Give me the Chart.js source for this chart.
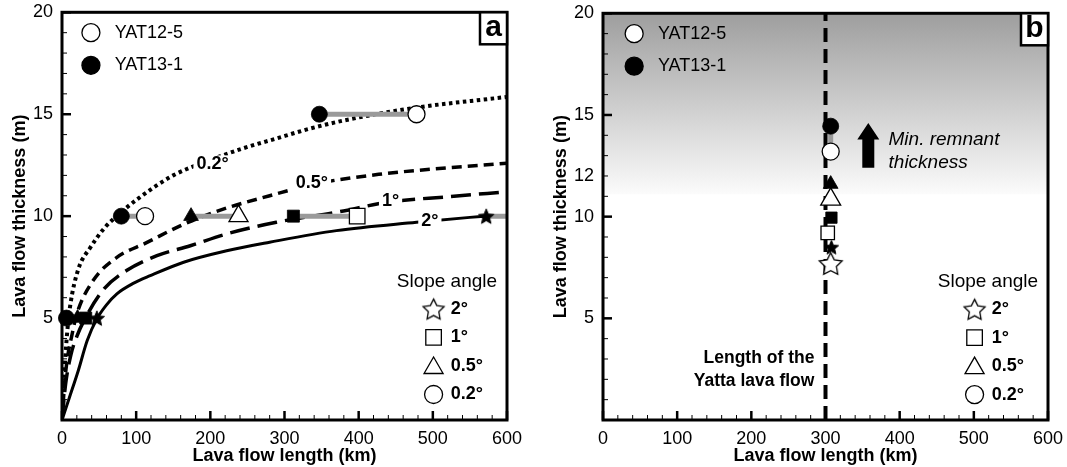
<!DOCTYPE html>
<html>
<head>
<meta charset="utf-8">
<script src="https://cdn.jsdelivr.net/npm/chart.js@4.4.0/dist/chart.umd.min.js"></script>
<style>
  html, body { margin: 0; padding: 0; background: #fff; }
  canvas { position: absolute; top: 0; }
</style>
</head>
<body>
<canvas id="chartA" width="541" height="467" style="left:0;width:541px;height:467px"></canvas>
<canvas id="chartB" width="526" height="467" style="left:541px;width:526px;height:467px"></canvas>
<script>
// ---- data ----
const slopeLabels = ['2°', '1°', '0.5°', '0.2°'];
const sampleLabels = ['YAT12-5', 'YAT13-1'];
const xTickLabels = [0, 100, 200, 300, 400, 500, 600];
const yTickLabelsA = [5, 10, 15, 20];
const yTickLabelsB = [5, 10, 12, 15, 20];

// model curves, panel a (length km / thickness m)
const len02 = [0, 2, 4, 7, 11, 22, 38, 58, 80, 104, 150, 196, 242, 288, 335, 381, 473, 600];
const thk02 = [0, 1.6, 2.8, 4.3, 5.6, 7.4, 8.45, 9.45, 10.2, 10.9, 12.0, 12.7, 13.3, 13.8, 14.3, 14.7, 15.3, 15.85];
const len05 = [0, 4, 8, 13, 20, 42, 74, 114, 164, 222, 280, 337, 427, 600];
const thk05 = [0, 2.0, 3.2, 4.1, 5.2, 6.84, 7.98, 8.7, 9.6, 10.4, 11.0, 11.55, 12.05, 12.6];
const len1 = [0, 5, 12, 20, 30, 56, 87, 128, 173, 222, 289, 370, 442, 520, 600];
const thk1 = [0, 1.8, 3.2, 4.1, 4.9, 6.4, 7.33, 8.06, 8.55, 9.13, 9.7, 10.19, 10.7, 10.95, 11.2];
const len2 = [0, 10, 22, 34, 47, 60, 74, 96, 119, 164, 222, 280, 370, 478, 550, 572];
const thk2 = [0, 1.1, 2.43, 3.9, 4.96, 5.65, 6.19, 6.7, 7.08, 7.74, 8.3, 8.72, 9.29, 9.7, 9.94, 10.0];

// sample lengths for slopes 2°, 1°, 0.5°, 0.2° (YAT13-1 filled, YAT12-5 open)
const a5Filled = [47, 32, 21, 6];
const a10Filled = [572, 312, 174, 80];
const a10Open = [660, 398, 238, 112];
const a15Filled = [null, null, null, 347];
const a15Open = [null, null, null, 478];

// panel b: remnant thickness at the Yatta flow length
const yattaLength = 300;
const bFilledLen = [308, 308, 307, 307];
const bFilledThk = [8.5, 9.95, 11.6, 14.45];
const bOpenLen = [307, 303, 307, 307];
const bOpenThk = [7.7, 9.2, 10.85, 13.2];
const shadeFrom = 11.1;

// ---- drawing ----
const FONT = "'Liberation Sans', Arial, Helvetica, sans-serif";
Chart.defaults.font.family = FONT;
Chart.defaults.font.size = 17;
Chart.defaults.color = '#000';
Chart.defaults.animation = false;

function starImage(R, inner, filled, lw) {
  const s = Math.ceil(2 * R + 2 * lw + 4);
  const c = document.createElement('canvas');
  c.width = s; c.height = s;
  const g = c.getContext('2d');
  const cx = s / 2, cy = s / 2 + R * 0.1;
  g.beginPath();
  for (let i = 0; i < 10; i++) {
    const r = i % 2 ? R * inner : R;
    const ang = -Math.PI / 2 + i * Math.PI / 5;
    g.lineTo(cx + r * Math.cos(ang), cy + r * Math.sin(ang));
  }
  g.closePath();
  g.fillStyle = filled ? '#000' : '#fff';
  g.fill();
  g.lineWidth = lw;
  g.strokeStyle = '#000';
  g.stroke();
  return c;
}

const starFilledA = starImage(8, 0.45, true, 1);
const starFilledB = starImage(7.5, 0.45, true, 1);
const starOpenB = starImage(12, 0.5, false, 1.3);
const starLegend = starImage(11, 0.5, false, 1.3);

function pts(xs, ys) {
  return xs.map((v, i) => ({ x: v, y: ys[i] })).filter(p => p.x !== null && p.y !== null);
}

function curve(xs, ys, dash, width) {
  return {
    data: pts(xs, ys), showLine: true, pointRadius: 0, borderColor: '#000',
    borderWidth: width, borderDash: dash, borderCapStyle: 'butt',
    cubicInterpolationMode: 'monotone', order: 3
  };
}

function grayLine(p1, p2) {
  return {
    data: [p1, p2], showLine: true, pointRadius: 0, borderColor: '#9a9a9a',
    borderWidth: 5, borderCapStyle: 'butt', order: 2
  };
}

function marker(data, style, filled, r) {
  return {
    data: data, showLine: false, pointStyle: style, pointRadius: r,
    backgroundColor: filled ? '#000' : '#fff', borderColor: '#000',
    borderWidth: filled ? 0.8 : 1.3, clip: false, order: 0
  };
}

// chart area edges are fixed so both panels match the figure
function scales(yLabels) {
  return {
    x: {
      type: 'linear', min: 0, max: 600,
      grid: { display: false, drawTicks: false }, border: { display: false },
      ticks: {
        stepSize: 20, autoSkip: false, maxRotation: 0, padding: 8,
        font: { family: FONT, size: 18 },
        callback: v => xTickLabels.includes(v) ? String(v) : ''
      },
      title: { display: true, text: 'Lava flow length (km)', font: { family: FONT, weight: 'bold', size: 18 }, padding: { top: 0, bottom: 0 } },
      afterFit: s => { s.height = 47; s.paddingLeft = 0; s.paddingRight = 0; }
    },
    y: {
      type: 'linear', min: 0, max: 20,
      grid: { display: false, drawTicks: false }, border: { display: false },
      ticks: {
        stepSize: 1, autoSkip: false, padding: 9,
        font: { family: FONT, size: 18 },
        callback: v => yLabels.includes(v) ? String(v) : ''
      },
      title: { display: true, text: 'Lava flow thickness (m)', font: { family: FONT, weight: 'bold', size: 18 }, padding: { top: 9, bottom: 0 } },
      afterFit: s => { s.width = 62; s.paddingTop = 0; s.paddingBottom = 0; }
    }
  };
}

function frame(letter, yMajor) {
  return {
    id: 'frame' + letter,
    afterDraw(chart) {
      const { ctx, chartArea: a, scales: { x, y } } = chart;
      ctx.save();
      ctx.strokeStyle = '#000';
      for (let v = 0; v <= 600; v += 20) {
        const px = x.getPixelForValue(v);
        const major = v % 100 === 0;
        ctx.lineWidth = major ? 2.5 : 1;
        ctx.beginPath();
        ctx.moveTo(px, a.bottom);
        ctx.lineTo(px, a.bottom - (major ? 9 : 5));
        ctx.stroke();
      }
      for (let v = 0; v <= 20; v += 1) {
        const py = y.getPixelForValue(v);
        const major = yMajor.includes(v);
        ctx.lineWidth = major ? 2.5 : 1;
        ctx.beginPath();
        ctx.moveTo(a.left, py);
        ctx.lineTo(a.left + (major ? 9 : 5), py);
        ctx.stroke();
      }
      ctx.lineWidth = 3;
      ctx.strokeRect(a.left, a.top, a.right - a.left, a.bottom - a.top);
      // panel letter
      const bw = 27, bh = 32;
      ctx.fillStyle = '#fff';
      ctx.fillRect(a.right - bw, a.top, bw, bh);
      ctx.lineWidth = 2.5;
      ctx.strokeRect(a.right - bw, a.top, bw, bh);
      ctx.fillStyle = '#000';
      ctx.font = 'bold 30px ' + FONT;
      ctx.textAlign = 'center';
      ctx.textBaseline = 'middle';
      ctx.fillText(letter, a.right - bw / 2, a.top + bh / 2 - 1);
      ctx.restore();
    }
  };
}

function shape(ctx, style, x, y, r, filled) {
  ctx.fillStyle = filled ? '#000' : '#fff';
  ctx.strokeStyle = '#000';
  ctx.lineWidth = 1.3;
  Chart.helpers.drawPoint(ctx, { pointStyle: style, radius: r, borderWidth: 1.3, rotation: 0 }, x, y);
}

function legends(chart, ox) {
  const { ctx, scales: { x, y } } = chart;
  ctx.save();
  // sample legend, top left
  shape(ctx, 'circle', x.getPixelForValue(ox), y.getPixelForValue(19.0), 9, false);
  shape(ctx, 'circle', x.getPixelForValue(ox), y.getPixelForValue(17.4), 9, true);
  ctx.fillStyle = '#000';
  ctx.font = '18px ' + FONT;
  ctx.textAlign = 'left';
  ctx.textBaseline = 'middle';
  ctx.fillText(sampleLabels[0], x.getPixelForValue(ox + 32), y.getPixelForValue(19.0));
  ctx.fillText(sampleLabels[1], x.getPixelForValue(ox + 32), y.getPixelForValue(17.4));
  // slope legend, bottom right
  ctx.font = '19px ' + FONT;
  ctx.textAlign = 'center';
  ctx.fillText('Slope angle', x.getPixelForValue(519), y.getPixelForValue(6.8));
  const sx = x.getPixelForValue(501);
  const rows = [5.45, 4.05, 2.65, 1.25];
  ctx.drawImage(starLegend, sx - starLegend.width / 2, y.getPixelForValue(rows[0]) - starLegend.height / 2);
  shape(ctx, 'rect', sx, y.getPixelForValue(rows[1]), 11, false);
  shape(ctx, 'triangle', sx, y.getPixelForValue(rows[2]) + 2, 11, false);
  shape(ctx, 'circle', sx, y.getPixelForValue(rows[3]), 9, false);
  ctx.fillStyle = '#000';
  ctx.font = 'bold 18px ' + FONT;
  ctx.textAlign = 'left';
  slopeLabels.forEach((t, i) => ctx.fillText(t, x.getPixelForValue(524), y.getPixelForValue(rows[i])));
  ctx.restore();
}

// ---- panel a ----
const curveLabels = [
  { t: '0.2°', x: 203, y: 12.54 },
  { t: '0.5°', x: 337, y: 11.64 },
  { t: '1°', x: 443, y: 10.73 },
  { t: '2°', x: 496, y: 9.78 }
];

const dsA = [
  curve(len02, thk02, [3.5, 3.5], 4),
  curve(len05, thk05, [10, 6], 3.5),
  curve(len1, thk1, [20, 8], 3.5),
  curve(len2, thk2, [], 3)
];
for (let i = 0; i < 4; i++) {
  dsA.push(grayLine({ x: a10Filled[i], y: 10 }, { x: a10Open[i], y: 10 }));
}
dsA.push(grayLine({ x: a15Filled[3], y: 15 }, { x: a15Open[3], y: 15 }));

const stylesA = [
  { f: starFilledA, o: 'rect', rf: 8, ro: 11 },
  { f: 'rect', o: 'rect', rf: 8.5, ro: 11 },
  { f: 'triangle', o: 'triangle', rf: 8.5, ro: 11 },
  { f: 'circle', o: 'circle', rf: 8, ro: 8.5 }
];
stylesA.forEach((s, i) => {
  const fill = [{ x: a5Filled[i], y: 5 }, { x: a10Filled[i], y: 10 }];
  if (a15Filled[i] !== null) fill.push({ x: a15Filled[i], y: 15 });
  const open = [{ x: a10Open[i], y: 10 }];
  if (a15Open[i] !== null) open.push({ x: a15Open[i], y: 15 });
  dsA.push(marker(fill, s.f, true, s.rf));
  if (i > 0) dsA.push(marker(open, s.o, false, s.ro));
});

const annotateA = {
  id: 'annotateA',
  afterDatasetsDraw(chart) {
    const { ctx, scales: { x, y } } = chart;
    ctx.save();
    ctx.font = 'bold 18px ' + FONT;
    ctx.textAlign = 'center';
    ctx.textBaseline = 'middle';
    curveLabels.forEach(l => {
      const px = x.getPixelForValue(l.x), py = y.getPixelForValue(l.y);
      const w = ctx.measureText(l.t).width;
      ctx.fillStyle = '#fff';
      ctx.fillRect(px - w / 2 - 3, py - 9, w + 6, 18);
      ctx.fillStyle = '#000';
      ctx.fillText(l.t, px, py);
    });
    ctx.restore();
    legends(chart, 39);
  }
};

new Chart(document.getElementById('chartA'), {
  type: 'scatter',
  data: { datasets: dsA },
  options: {
    responsive: false,
    layout: { padding: { top: 11.5, right: 34, left: 0, bottom: 0 } },
    plugins: { legend: { display: false }, tooltip: { enabled: false } },
    scales: scales(yTickLabelsA)
  },
  plugins: [annotateA, frame('a', [5, 10, 15, 20])]
});

// ---- panel b ----
const dsB = [
  {
    data: [{ x: yattaLength, y: 0 }, { x: yattaLength, y: 20 }], showLine: true, pointRadius: 0,
    borderColor: '#000', borderWidth: 4, borderDash: [14, 7], borderCapStyle: 'butt', order: 4
  },
  grayLine({ x: bFilledLen[3], y: bFilledThk[3] }, { x: bOpenLen[3], y: bOpenThk[3] })
];
const stylesB = [
  { f: starFilledB, o: starOpenB, rf: 8, ro: 12 },
  { f: 'rect', o: 'rect', rf: 8, ro: 9.5 },
  { f: 'triangle', o: 'triangle', rf: 8.5, ro: 11.5 },
  { f: 'circle', o: 'circle', rf: 8, ro: 8.5 }
];
stylesB.forEach((s, i) => {
  dsB.push(marker([{ x: bFilledLen[i], y: bFilledThk[i] }], s.f, true, s.rf));
  dsB.push(marker([{ x: bOpenLen[i], y: bOpenThk[i] }], s.o, false, s.ro));
});

const annotateB = {
  id: 'annotateB',
  beforeDatasetsDraw(chart) {
    const { ctx, chartArea: a, scales: { y } } = chart;
    const top = y.getPixelForValue(20), bot = y.getPixelForValue(shadeFrom);
    const g = ctx.createLinearGradient(0, top, 0, bot);
    g.addColorStop(0, '#9e9e9e');
    g.addColorStop(1, '#fbfbfb');
    ctx.save();
    ctx.fillStyle = g;
    ctx.fillRect(a.left, a.top, a.right - a.left, bot - a.top);
    ctx.restore();
  },
  afterDatasetsDraw(chart) {
    const { ctx, scales: { x, y } } = chart;
    ctx.save();
    // arrow
    const ax = x.getPixelForValue(357.7);
    const yTop = y.getPixelForValue(14.6), yHead = y.getPixelForValue(13.8), yBot = y.getPixelForValue(12.4);
    ctx.fillStyle = '#000';
    ctx.beginPath();
    ctx.moveTo(ax, yTop);
    ctx.lineTo(ax + 11, yHead);
    ctx.lineTo(ax + 6, yHead);
    ctx.lineTo(ax + 6, yBot);
    ctx.lineTo(ax - 6, yBot);
    ctx.lineTo(ax - 6, yHead);
    ctx.lineTo(ax - 11, yHead);
    ctx.closePath();
    ctx.fill();
    ctx.font = 'italic 19px ' + FONT;
    ctx.textAlign = 'left';
    ctx.textBaseline = 'middle';
    ctx.fillText('Min. remnant', x.getPixelForValue(385), y.getPixelForValue(13.8));
    ctx.fillText('thickness', x.getPixelForValue(385), y.getPixelForValue(12.65));
    ctx.font = 'bold 17.5px ' + FONT;
    ctx.textAlign = 'right';
    ctx.fillText('Length of the', x.getPixelForValue(285), y.getPixelForValue(3.03));
    ctx.fillText('Yatta lava flow', x.getPixelForValue(285), y.getPixelForValue(1.89));
    ctx.restore();
    legends(chart, 42);
  }
};

new Chart(document.getElementById('chartB'), {
  type: 'scatter',
  data: { datasets: dsB },
  options: {
    responsive: false,
    layout: { padding: { top: 11.5, right: 19, left: 0, bottom: 0 } },
    plugins: { legend: { display: false }, tooltip: { enabled: false } },
    scales: scales(yTickLabelsB)
  },
  plugins: [annotateB, frame('b', [5, 10, 15, 20])]
});
</script>
</body>
</html>
